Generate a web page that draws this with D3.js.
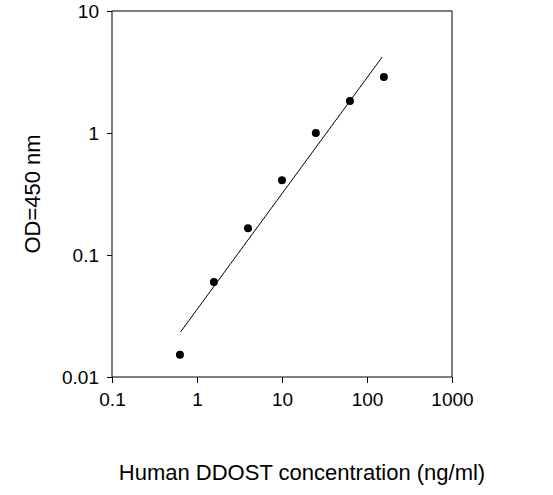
<!DOCTYPE html>
<html>
<head>
<meta charset="utf-8">
<script src="https://cdn.jsdelivr.net/npm/d3@7"></script>
<style>
  body { margin: 0; background: #fff; }
  text { font-family: "Liberation Sans", Arial, sans-serif; }
</style>
</head>
<body>
<script>
let w = 553;
let h = 495;

// data
let conc = [0.63, 1.58, 3.98, 10, 25, 63, 158];
let od = [0.0152, 0.060, 0.166, 0.41, 1.0, 1.83, 2.88];
let fitX = [0.64, 151];
let fitY = [0.0234, 4.2];
let xTicks = [0.1, 1, 10, 100, 1000];
let yTicks = [0.01, 0.1, 1, 10];

let pLeft = 112, pRight = 452, pTop = 11, pBottom = 377;

let x = d3.scaleLog().domain([0.1, 1000]).range([pLeft, pRight]);
let y = d3.scaleLog().domain([0.01, 10]).range([pBottom, pTop]);

let svg = d3.select("body").append("svg").attr("width", w).attr("height", h);

// frame
svg.append("rect")
  .attr("x", pLeft).attr("y", pTop)
  .attr("width", pRight - pLeft).attr("height", pBottom - pTop)
  .attr("fill", "none").attr("stroke", "#000").attr("stroke-width", 1);

let xAxis = svg.append("g")
  .attr("transform", `translate(0,${pBottom})`)
  .call(d3.axisBottom(x).tickValues(xTicks).tickFormat(d3.format("~g")).tickSize(6).tickPadding(10));
xAxis.select(".domain").remove();
xAxis.selectAll("text").attr("font-size", 19).attr("fill", "#000");

let yAxis = svg.append("g")
  .attr("transform", `translate(${pLeft},0)`)
  .call(d3.axisLeft(y).tickValues(yTicks).tickFormat(d3.format("~g")).tickSize(5).tickPadding(8));
yAxis.select(".domain").remove();
yAxis.selectAll("text").attr("font-size", 19).attr("fill", "#000");

// fit line
svg.append("line")
  .attr("x1", x(fitX[0])).attr("y1", y(fitY[0]))
  .attr("x2", x(fitX[1])).attr("y2", y(fitY[1]))
  .attr("stroke", "#000").attr("stroke-width", 1);

svg.selectAll("circle.pt")
  .data(conc)
  .enter()
  .append("circle")
  .attr("class", "pt")
  .attr("cx", (d) => x(d))
  .attr("cy", (d, i) => y(od[i]))
  .attr("r", 4)
  .attr("fill", "#000");

svg.append("text")
  .attr("x", (pLeft + pRight) / 2 + 20).attr("y", 480)
  .attr("text-anchor", "middle").attr("font-size", 22)
  .text("Human DDOST concentration (ng/ml)");

svg.append("text")
  .attr("transform", `translate(40,${(pTop + pBottom) / 2}) rotate(-90)`)
  .attr("text-anchor", "middle").attr("font-size", 22)
  .text("OD=450 nm");
</script>
</body>
</html>
